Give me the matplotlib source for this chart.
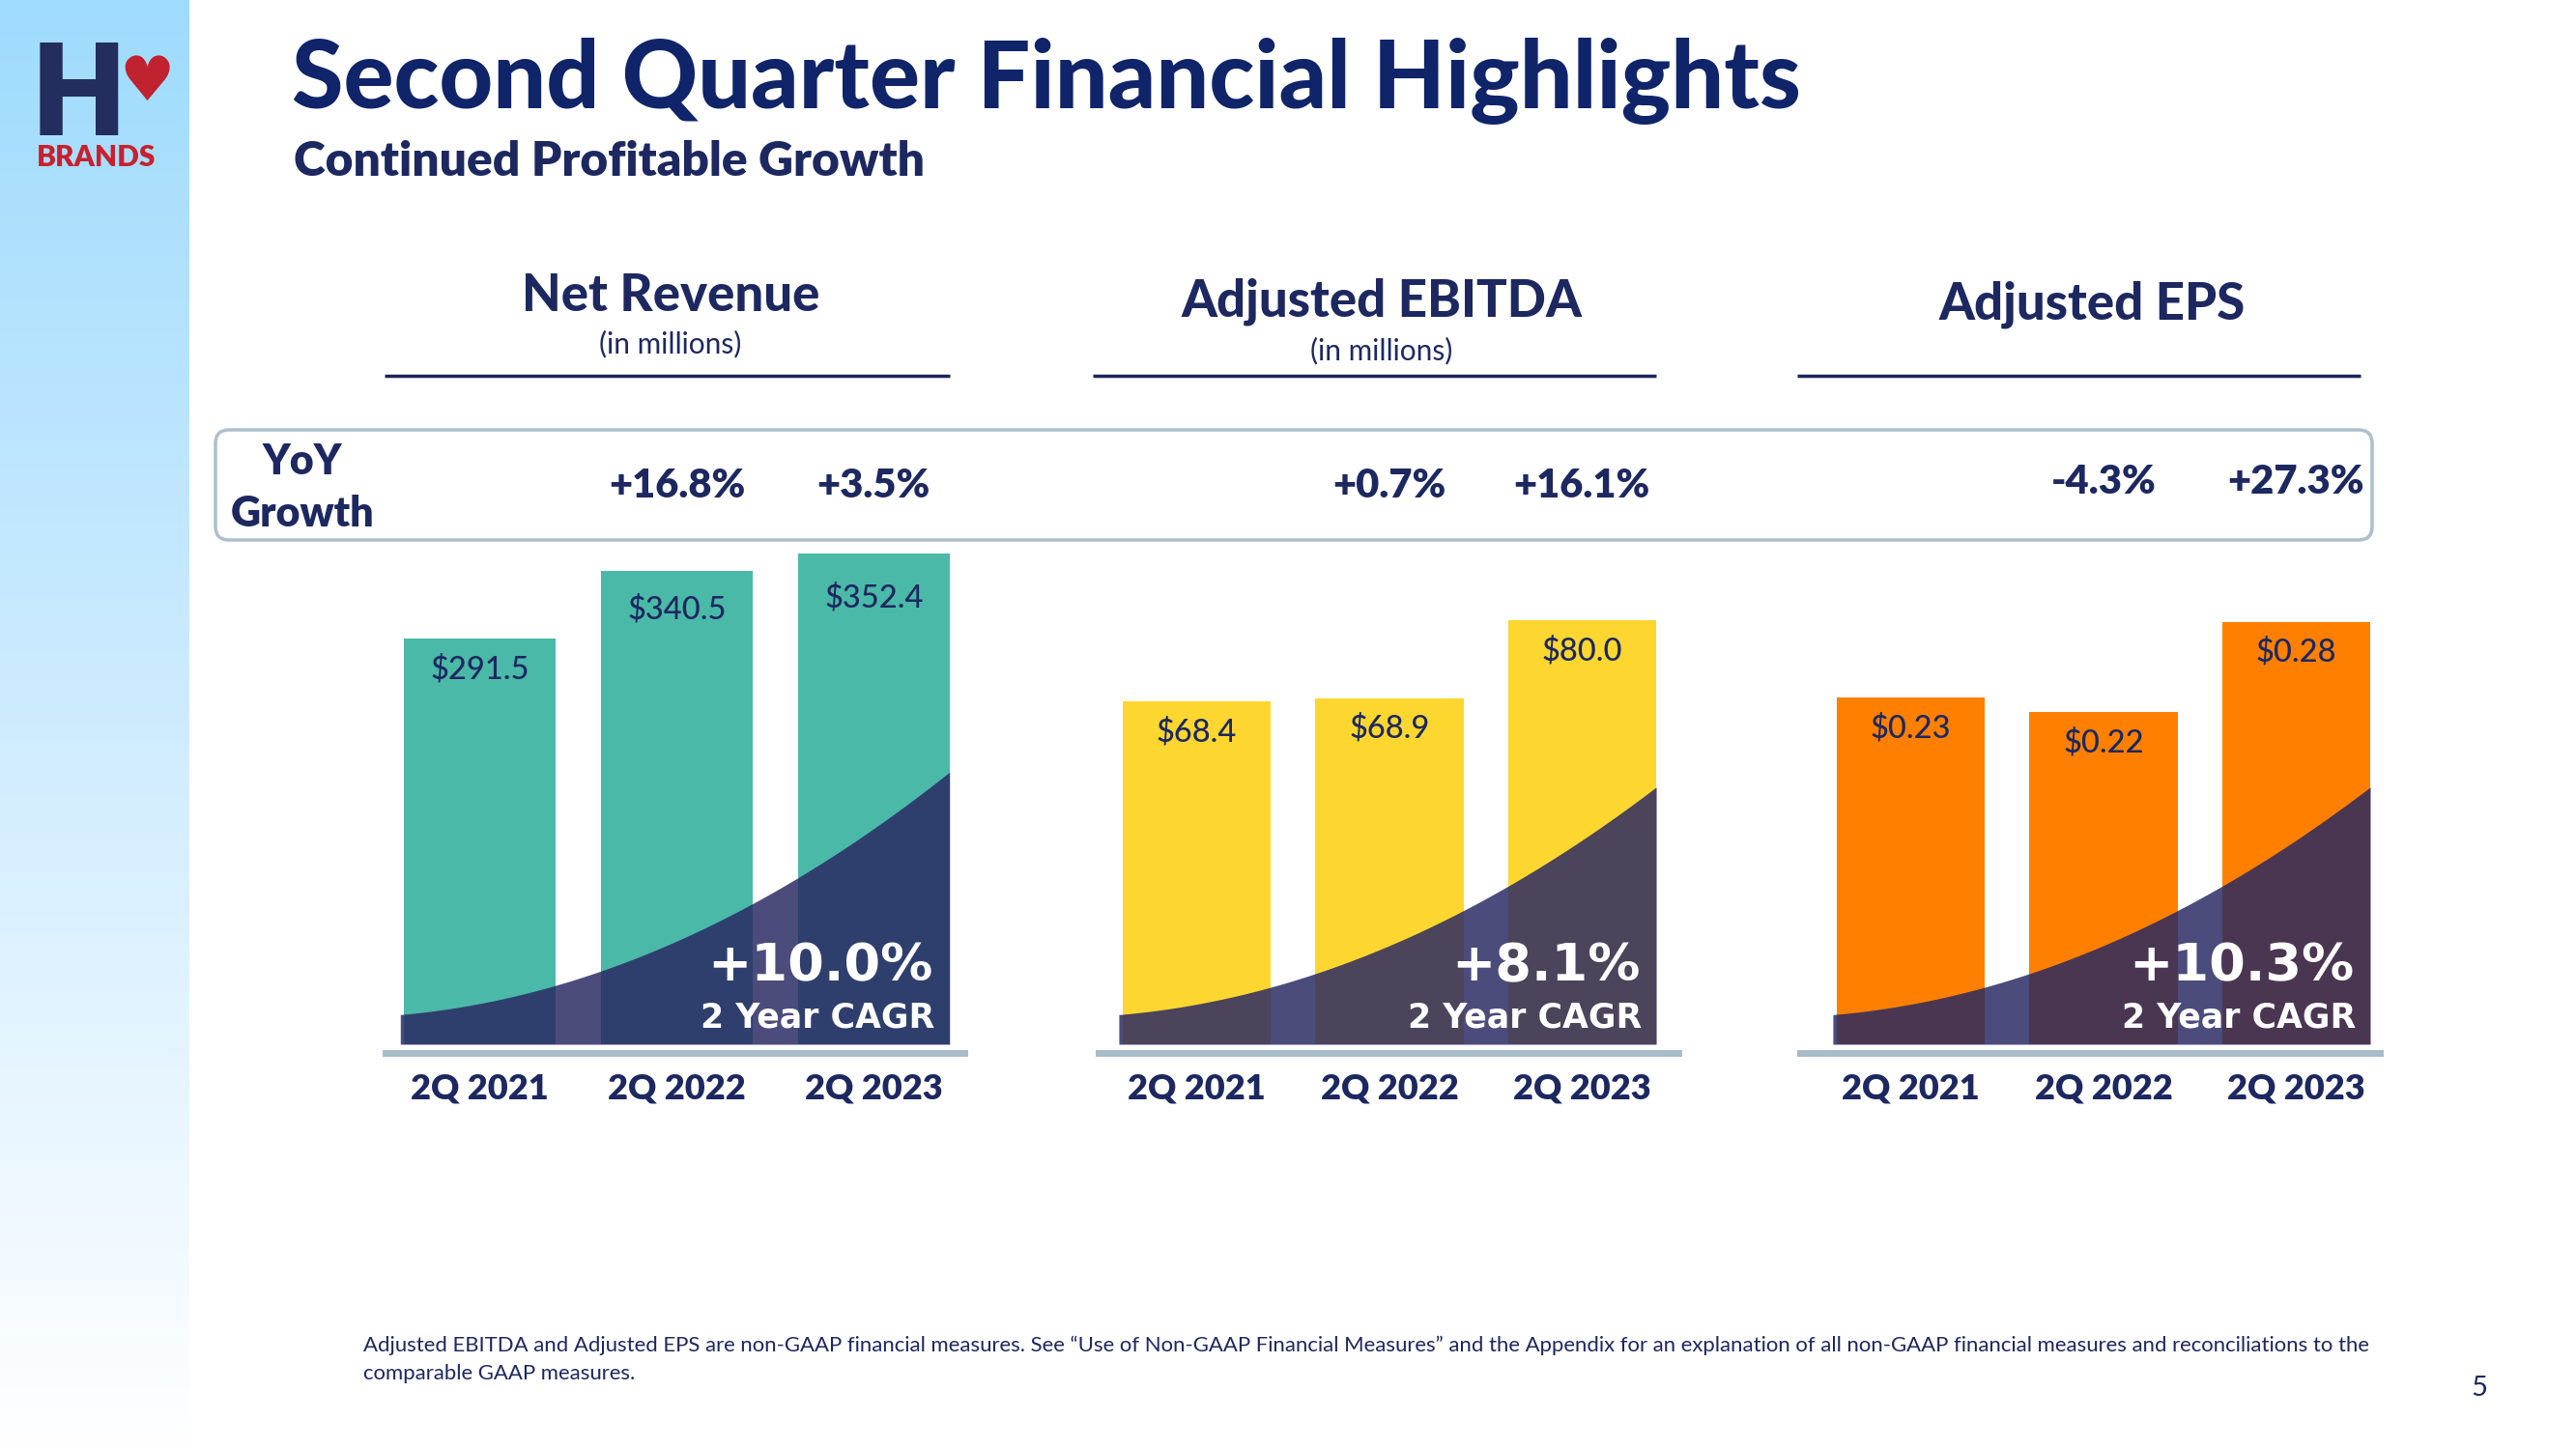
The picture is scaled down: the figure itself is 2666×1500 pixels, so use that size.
import numpy as np
import matplotlib
matplotlib.use("Agg")
import matplotlib.pyplot as plt
from matplotlib.patches import FancyBboxPatch
from matplotlib.colors import LinearSegmentedColormap
import matplotlib.transforms as mtransforms

# ---------------- data ----------------
periods = ["2Q 2021", "2Q 2022", "2Q 2023"]
net_revenue = [291.5, 340.5, 352.4]
adj_ebitda = [68.4, 68.9, 80.0]
adj_eps = [0.23, 0.22, 0.28]
revenue_labels = ["$291.5", "$340.5", "$352.4"]
ebitda_labels = ["$68.4", "$68.9", "$80.0"]
eps_labels = ["$0.23", "$0.22", "$0.28"]
revenue_yoy = ["+16.8%", "+3.5%"]
ebitda_yoy = ["+0.7%", "+16.1%"]
eps_yoy = ["-4.3%", "+27.3%"]
cagr_labels = ["+10.0%", "+8.1%", "+10.3%"]
chart_titles = ["Net Revenue", "Adjusted EBITDA", "Adjusted EPS"]
chart_units = ["(in millions)", "(in millions)", ""]

# ---------------- style ----------------
NAVY = "#1d2860"
TITLE_NAVY = "#10246a"
bar_colors = ["#4ab9a8", "#fdd730", "#ff8000"]
OVERLAY = "#292863"
BASE_GRAY = "#a8bbc8"
TITLE_FONT = ["Lato", "DejaVu Sans"]

W, H = 2666, 1500
fig = plt.figure(figsize=(W / 100, H / 100), dpi=100)
fig.patch.set_facecolor("white")

bg = fig.add_axes([0, 0, 1, 1], zorder=0)
bg.axis("off")

# side gradient
cmap = LinearSegmentedColormap.from_list("side", ["#9fdbfd", "#cfecff", "#ffffff"])
grad = np.linspace(0, 1, 256).reshape(-1, 1)
bg.imshow(grad, extent=[0, 196, H, 0], cmap=cmap, aspect="auto", zorder=0)
bg.set_xlim(0, W)
bg.set_ylim(H, 0)

# logo
bg.text(81, 140, "H", ha="center", va="baseline", fontsize=98, family=["Roboto", "DejaVu Sans"],
        weight="black", color="#232d5e")
bg.text(152, 86, "\u2665", ha="center", va="center", fontsize=46, family="DejaVu Sans", color="#c0232f")
bg.text(38, 172, "BRANDS", ha="left", va="baseline", fontsize=21.5, family=TITLE_FONT,
        weight="heavy", color="#c8202f")

# title
bg.text(302, 112, "Second Quarter Financial Highlights", ha="left", va="baseline", fontsize=69.8,
        family=TITLE_FONT, weight="black", color=TITLE_NAVY)
bg.text(304, 182, "Continued Profitable Growth", ha="left", va="baseline", fontsize=35.7,
        family=TITLE_FONT, weight="heavy", color=NAVY)

# YoY box
box = FancyBboxPatch((223, 445), 2232, 114, boxstyle="round,pad=0,rounding_size=14",
                     facecolor="white", edgecolor="#adbfcb", linewidth=2.5, zorder=1)
bg.add_patch(box)
bg.text(313, 478, "YoY", ha="center", va="center", fontsize=31, family=TITLE_FONT,
        weight="heavy", color=NAVY)
bg.text(313, 532, "Growth", ha="center", va="center", fontsize=31, family=TITLE_FONT,
        weight="heavy", color=NAVY)

# section headers
header_x = [694, 1430, 2165]
header_y = [306, 312, 315]
unit_y = [356, 363, 363]
line_spans = [(398, 983), (1131, 1714), (1860, 2443)]
for hx, hy, uy, span, title, unit in zip(header_x, header_y, unit_y, line_spans, chart_titles, chart_units):
    bg.text(hx, hy, title, ha="center", va="center", fontsize=38, family=TITLE_FONT,
            weight="black", color=NAVY)
    if unit:
        bg.text(hx, uy, unit, ha="center", va="center", fontsize=21.5, family=TITLE_FONT,
                color=NAVY)
    bg.plot(span, [389, 389], color="#1c2557", lw=2.5, solid_capstyle="butt", zorder=2)

# footnote & page number
bg.text(376, 1407,
        "Adjusted EBITDA and Adjusted EPS are non-GAAP financial measures. See \u201cUse of Non-GAAP Financial Measures\u201d "
        "and the Appendix for an explanation of all non-GAAP financial measures and reconciliations to the\n"
        "comparable GAAP measures.",
        ha="left", va="center", fontsize=15.9, family=TITLE_FONT, color=NAVY, linespacing=1.55)
bg.text(2566, 1437, "5", ha="center", va="center", fontsize=21, family=TITLE_FONT, color=NAVY)

# ---------------- charts ----------------
series = [net_revenue, adj_ebitda, adj_eps]
value_labels = [revenue_labels, ebitda_labels, eps_labels]
yoys = [revenue_yoy, ebitda_yoy, eps_yoy]
ax_lefts = [399, 1137, 1863]
ax_rights = [998, 1737, 2463]
ax_top, ax_bottom = 561, 1081
xlims = [(-0.48, 2.46), (-0.51, 2.50), (-0.575, 2.435)]
ylims = [(0, 361), (19.4, 91.2), (0, 0.333)]
label_offsets = [(-23, -29, -33), (-23, -23, -23), (-23, -23, -23)]
curve_start = 0.059
curve_end = [0.542, 0.512, 0.512]
yoy_y = [503, 503, 499]
BAR_W = 0.77

for i in range(3):
    l, r = ax_lefts[i], ax_rights[i]
    ax = fig.add_axes([l / W, 1 - ax_bottom / H, (r - l) / W, (ax_bottom - ax_top) / H], zorder=2)
    ax.patch.set_alpha(0)
    x = np.arange(len(periods))
    ax.bar(x, series[i], width=BAR_W, color=bar_colors[i], zorder=2)
    ax.set_xlim(*xlims[i])
    ax.set_ylim(*ylims[i])

    # decorative growth curve overlay
    t = np.linspace(0, 1, 300)
    cx = -BAR_W / 2 - 0.02 + t * (2 + BAR_W + 0.02)
    cy = curve_start + (curve_end[i] - curve_start) * (0.2 * t + 0.8 * t ** 2)
    ax.fill_between(cx, 0, cy, transform=ax.get_xaxis_transform(), color=OVERLAY,
                    alpha=0.84, lw=0, zorder=3)

    # value labels inside bars
    for xi, v, lab, off in zip(x, series[i], value_labels[i], label_offsets[i]):
        ax.annotate(lab, xy=(xi, v), xytext=(0, off), textcoords="offset points",
                    ha="center", va="center", fontsize=23.5, family=TITLE_FONT,
                    weight="medium", color=NAVY, zorder=4)

    # CAGR
    ax.annotate(cagr_labels[i], xy=(2 + BAR_W / 2, 0.155), xycoords=ax.get_xaxis_transform(),
                xytext=(-12, 0), textcoords="offset points", ha="right", va="center",
                fontsize=39, family="DejaVu Sans", weight="bold", color="white", zorder=5)
    ax.annotate("2 Year CAGR", xy=(2 + BAR_W / 2, 0.052), xycoords=ax.get_xaxis_transform(),
                xytext=(-11, 0), textcoords="offset points", ha="right", va="center",
                fontsize=25, family="DejaVu Sans", weight="bold", color="white", zorder=5)

    # YoY growth values above bars 2 and 3
    tr = mtransforms.blended_transform_factory(ax.transData, bg.transData)
    for xi, lab in zip(x[1:], yoys[i]):
        fig.text(xi, yoy_y[i], lab, transform=tr, ha="center", va="center", fontsize=30,
                 family=TITLE_FONT, weight="heavy", color=NAVY, zorder=6)

    for s in ["top", "left", "right"]:
        ax.spines[s].set_visible(False)
    ax.spines["bottom"].set_position(("outward", 6.5))
    ax.spines["bottom"].set_color(BASE_GRAY)
    ax.spines["bottom"].set_linewidth(5)
    ax.set_yticks([])
    ax.set_xticks(x)
    ax.set_xticklabels(periods, fontsize=26, family=TITLE_FONT, weight="heavy", color=NAVY)
    ax.tick_params(axis="x", length=0, pad=15)

fig.savefig("out.png", dpi=100, facecolor="white")
